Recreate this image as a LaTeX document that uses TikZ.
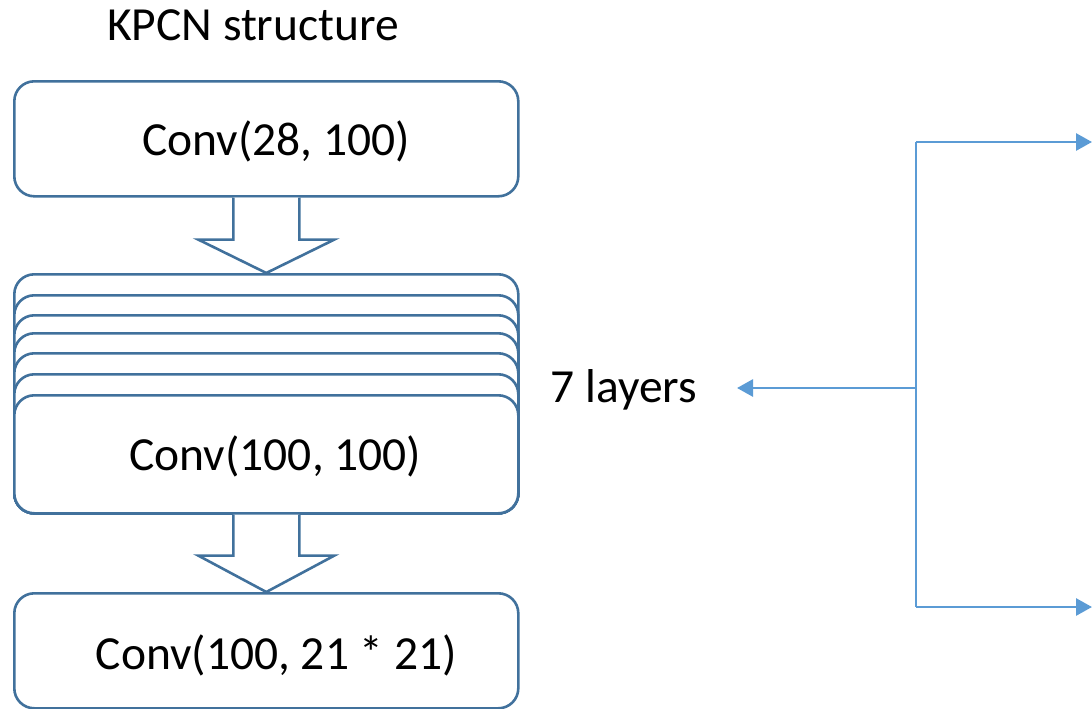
\documentclass[tikz,border=0pt]{standalone}
\usepackage{fontspec}
\setmainfont{Carlito}
\usetikzlibrary{arrows.meta,calc}
\definecolor{boxblue}{HTML}{41719C}
\definecolor{linkblue}{HTML}{5B9BD5}
\begin{document}
\begin{tikzpicture}[x=1pt,y=-1pt,
  box/.style={draw=boxblue,line width=2.6pt,fill=white,rounded corners=20pt,
    minimum width=504pt,anchor=north west,inner sep=0pt},
  lbl/.style={font=\fontsize{47.5}{52}\selectfont,inner sep=0pt},
  blockarrow/.style={draw=boxblue,line width=2.6pt,fill=white,line join=miter},
  link/.style={draw=linkblue,line width=2.8pt,-{Triangle[length=16pt,width=17pt]}}]
\useasboundingbox (0,0) rectangle (1092,709);
% title
\node[lbl] (title) at (253,25) {KPCN structure};
% top box
\node[box,minimum height=115pt] (b1) at (13,80) {};
\node[lbl] (t1) at ($(b1.center)+(10,3)$) {Conv(28, 100)};
% stack of 7 boxes
\foreach \t [count=\i] in {273,294,314,332,352,373} {
  \node[box,minimum height={512-\t}] (s\i) at (13,\t) {};
}
\node[box,minimum height=118pt] (b2) at (13,394) {};
\node[lbl] (t2) at ($(b2.center)+(9,2)$) {Conv(100, 100)};
% bottom box
\node[box,minimum height=115pt] (b3) at (13,592) {};
\node[lbl] (t3) at ($(b3.center)+(10,5)$) {Conv(100, 21 * 21)};
% block arrows
\draw[blockarrow] ($(b1.south)+(-33,0)$) -- ++(0,42) -- ++(-35,0)
  -- ($(s1.north)+(0,0)$) -- ($(b1.south)+(68,42)$) -- ++(-35,0) -- ($(b1.south)+(33,0)$);
\draw[blockarrow] ($(b2.south)+(-33,0)$) -- ++(0,41) -- ++(-35,0)
  -- ($(b3.north)+(0,0)$) -- ($(b2.south)+(68,41)$) -- ++(-35,0) -- ($(b2.south)+(33,0)$);
% 7 layers label and bracket
\node[lbl,anchor=center] (layers) at (624,390) {7 layers};
\coordinate (mid) at (916,388);
\coordinate (top) at (916,142);
\coordinate (bot) at (916,607);
\coordinate (topend) at (1092,142);
\coordinate (botend) at (1092,607);
\coordinate (leftend) at (737,388);
\draw[draw=linkblue,line width=2.8pt] (top) -- (bot);
\draw[link] (top) -- (topend);
\draw[link] (bot) -- (botend);
\draw[link] (mid) -- (leftend);
\end{tikzpicture}
\end{document}
